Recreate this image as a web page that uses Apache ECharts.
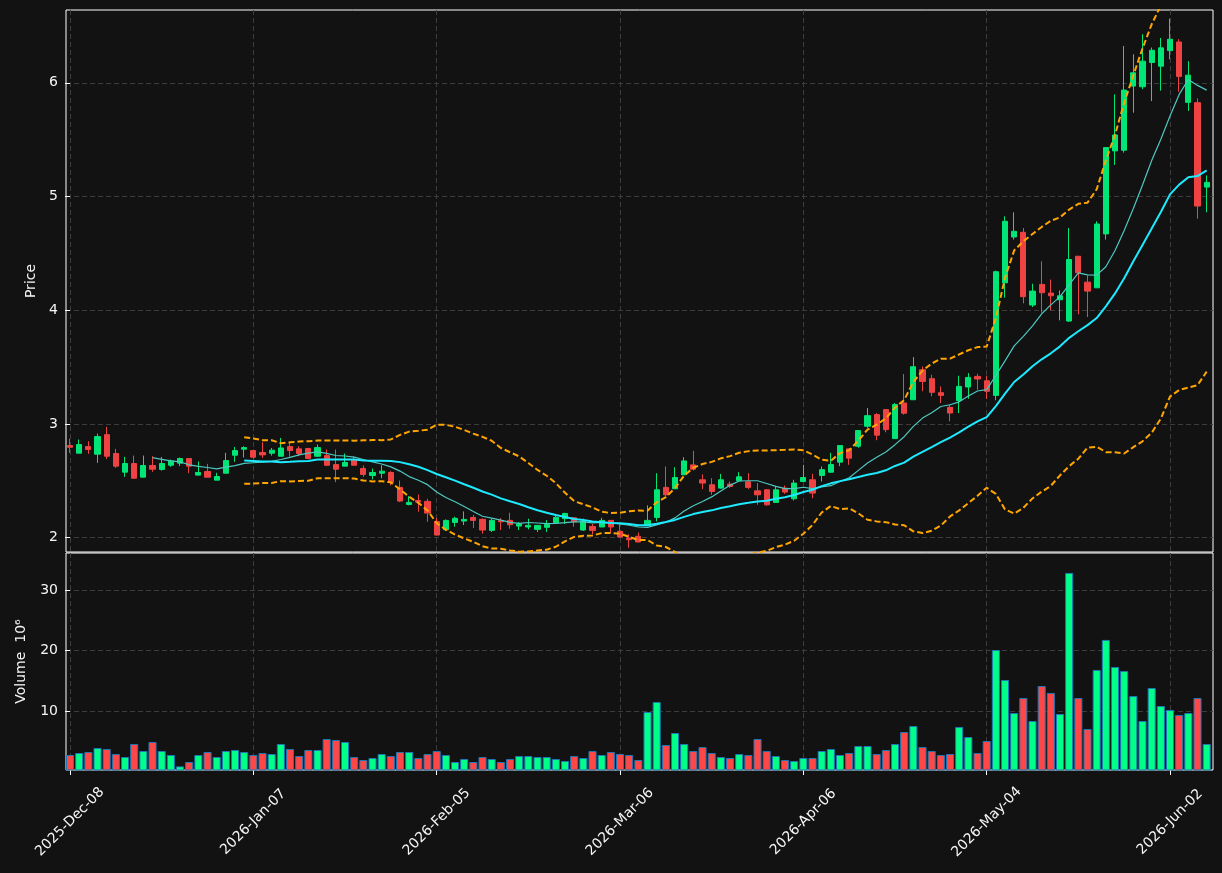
<!DOCTYPE html>
<html>
<head>
<meta charset="utf-8">
<script src="https://cdn.jsdelivr.net/npm/echarts@6/dist/echarts.min.js"></script>
<style>
    html, body { margin: 0; padding: 0; background: #121212; }
    #chart { width: 1222px; height: 873px; }
</style>
</head>
<body>
<div id="chart"></div>
<script>
// trading days: US business days from START_DATE, skipping HOLIDAYS
const START_DATE = "2025-12-08"
const HOLIDAYS = ["2025-12-25", "2026-01-01", "2026-01-19", "2026-02-16", "2026-04-03", "2026-05-25"]
const TICK_INDEX = [0, 20, 40, 60, 80, 100, 120]
const PRICE_TICKS = [2, 3, 4, 5, 6]
const VOLUME_TICKS = [10, 20, 30]

const OPEN = [
    2.81, 2.743, 2.801, 2.734, 2.906, 2.74, 2.576, 2.652, 2.532, 2.635,
    2.60, 2.637, 2.655, 2.696, 2.55, 2.582, 2.506, 2.567, 2.725, 2.778,
    2.766, 2.749, 2.743, 2.716, 2.801, 2.781, 2.784, 2.716, 2.722, 2.643,
    2.629, 2.687, 2.608, 2.547, 2.567, 2.573, 2.442, 2.292, 2.327, 2.319,
    2.143, 2.07, 2.134, 2.146, 2.178, 2.161, 2.064, 2.149, 2.152, 2.102,
    2.094, 2.073, 2.091, 2.132, 2.167, 2.175, 2.067, 2.099, 2.094, 2.152,
    2.056, 1.994, 2.012, 2.108, 2.178, 2.442, 2.43, 2.553, 2.64, 2.509,
    2.465, 2.436, 2.471, 2.5, 2.491, 2.412, 2.421, 2.31, 2.436, 2.342,
    2.494, 2.509, 2.547, 2.576, 2.664, 2.781, 2.804, 2.98, 3.082, 3.126,
    2.871, 3.184, 3.213, 3.477, 3.398, 3.275, 3.146, 3.205, 3.325, 3.418,
    3.38, 3.251, 4.241, 4.644, 4.685, 4.046, 4.227, 4.151, 4.092, 3.905,
    4.475, 4.247, 4.197, 4.671, 5.401, 5.407, 5.971, 5.965, 6.178, 6.146,
    6.283, 6.359, 5.828, 5.825, 5.083,
]
const CLOSE = [
    2.795, 2.819, 2.775, 2.889, 2.716, 2.629, 2.652, 2.523, 2.635, 2.602,
    2.652, 2.675, 2.696, 2.629, 2.573, 2.532, 2.538, 2.678, 2.766, 2.792,
    2.708, 2.728, 2.769, 2.789, 2.766, 2.74, 2.696, 2.792, 2.637, 2.602,
    2.661, 2.637, 2.556, 2.573, 2.585, 2.488, 2.322, 2.31, 2.313, 2.216,
    2.023, 2.152, 2.17, 2.161, 2.152, 2.067, 2.152, 2.14, 2.114, 2.12,
    2.108, 2.108, 2.117, 2.178, 2.213, 2.14, 2.146, 2.064, 2.152, 2.094,
    2.006, 1.982, 1.962, 2.152, 2.421, 2.377, 2.529, 2.675, 2.602, 2.48,
    2.406, 2.509, 2.45, 2.535, 2.442, 2.377, 2.289, 2.421, 2.401, 2.48,
    2.529, 2.392, 2.598, 2.643, 2.81, 2.699, 2.942, 3.073, 2.901, 2.95,
    3.17, 3.094, 3.503, 3.374, 3.278, 3.251, 3.096, 3.33, 3.409, 3.395,
    3.287, 4.339, 4.782, 4.694, 4.119, 4.168, 4.154, 4.127, 4.127, 4.446,
    4.329, 4.168, 4.758, 5.43, 5.541, 5.936, 6.088, 6.19, 6.286, 6.307,
    6.383, 6.056, 6.067, 4.916, 5.124,
]
const HIGH = [
    2.87, 2.863, 2.848, 2.915, 2.974, 2.781, 2.711, 2.722, 2.722, 2.716,
    2.71, 2.687, 2.705, 2.70, 2.67, 2.649, 2.57, 2.746, 2.798, 2.804,
    2.775, 2.839, 2.789, 2.877, 2.839, 2.804, 2.79, 2.819, 2.775, 2.775,
    2.74, 2.716, 2.635, 2.608, 2.637, 2.585, 2.503, 2.365, 2.38, 2.342,
    2.175, 2.16, 2.184, 2.231, 2.199, 2.17, 2.167, 2.172, 2.219, 2.137,
    2.167, 2.108, 2.155, 2.196, 2.219, 2.175, 2.167, 2.12, 2.175, 2.152,
    2.117, 2.03, 2.044, 2.284, 2.567, 2.626, 2.62, 2.708, 2.763, 2.556,
    2.523, 2.561, 2.494, 2.576, 2.567, 2.48, 2.427, 2.45, 2.459, 2.509,
    2.64, 2.561, 2.626, 2.746, 2.81, 2.781, 2.942, 3.14, 3.096, 3.126,
    3.184, 3.439, 3.588, 3.506, 3.433, 3.33, 3.17, 3.424, 3.447, 3.441,
    3.424, 4.348, 4.826, 4.861, 4.723, 4.233, 4.431, 4.27, 4.174, 4.723,
    4.475, 4.306, 4.782, 5.43, 5.898, 6.324, 6.251, 6.427, 6.31, 6.394,
    6.564, 6.383, 6.19, 5.863, 5.185,
]
const LOW = [
    2.745, 2.743, 2.737, 2.658, 2.693, 2.614, 2.535, 2.52, 2.53, 2.579,
    2.59, 2.623, 2.629, 2.567, 2.55, 2.53, 2.506, 2.567, 2.667, 2.705,
    2.693, 2.702, 2.722, 2.716, 2.711, 2.716, 2.69, 2.71, 2.629, 2.488,
    2.629, 2.637, 2.535, 2.512, 2.523, 2.459, 2.313, 2.284, 2.228, 2.14,
    2.02, 2.06, 2.096, 2.111, 2.085, 2.035, 2.05, 2.067, 2.079, 2.067,
    2.073, 2.05, 2.05, 2.13, 2.12, 2.096, 2.06, 2.03, 2.094, 2.044,
    2.0, 1.912, 1.959, 2.105, 2.143, 2.363, 2.43, 2.55, 2.591, 2.427,
    2.377, 2.43, 2.436, 2.494, 2.427, 2.289, 2.281, 2.31, 2.386, 2.327,
    2.494, 2.348, 2.494, 2.57, 2.629, 2.64, 2.79, 2.965, 2.857, 2.927,
    2.871, 3.082, 3.213, 3.287, 3.243, 3.184, 3.023, 3.096, 3.222, 3.30,
    3.219, 3.208, 4.11, 4.621, 4.06, 4.028, 3.978, 4.0, 3.911, 3.897,
    3.964, 3.94, 4.197, 4.621, 5.278, 5.386, 5.737, 5.944, 5.839, 5.93,
    6.207, 5.921, 5.752, 4.805, 4.861,
]
// volume in millions
const VOLUME = [
    2.73, 3.06, 3.22, 3.88, 3.72, 2.89, 2.40, 4.55, 3.39, 4.88,
    3.39, 2.73, 0.85, 1.57, 2.73, 3.22, 2.40, 3.39, 3.55, 3.22,
    2.73, 3.06, 2.89, 4.55, 3.72, 2.56, 3.55, 3.55, 5.37, 5.21,
    4.88, 2.40, 1.90, 2.23, 2.89, 2.56, 3.22, 3.22, 2.23, 2.89,
    3.39, 2.73, 1.57, 2.07, 1.57, 2.40, 2.07, 1.57, 2.07, 2.56,
    2.56, 2.40, 2.40, 2.07, 1.74, 2.56, 2.23, 3.39, 2.73, 3.22,
    2.89, 2.73, 1.90, 9.83, 11.49, 4.38, 6.36, 4.55, 3.39, 4.05,
    3.06, 2.40, 2.23, 2.89, 2.73, 5.37, 3.39, 2.56, 1.90, 1.74,
    2.23, 2.23, 3.39, 3.72, 2.73, 3.06, 4.21, 4.21, 2.89, 3.55,
    4.55, 6.53, 7.52, 4.05, 3.39, 2.73, 2.89, 7.36, 5.70, 3.06,
    5.04, 20.08, 15.12, 9.67, 12.15, 8.35, 14.13, 12.98, 9.50, 32.81,
    12.15, 7.02, 16.78, 21.74, 17.27, 16.61, 12.48, 8.35, 13.80, 10.83,
    10.17, 9.34, 9.67, 12.15, 4.55,
]

const UP = "#00E676"
const DOWN = "#EF4343"
const UP_VOL = "#00FF88"
const DOWN_VOL = "#FF4747"
const MONTHS = ["Jan", "Feb", "Mar", "Apr", "May", "Jun", "Jul", "Aug", "Sep", "Oct", "Nov", "Dec"]

function businessDays(start, count, holidays) {
    const out = []
    const d = new Date(start + "T00:00:00Z")
    while (out.length < count) {
        const iso = d.toISOString().slice(0, 10)
        const wd = d.getUTCDay()
        if (wd !== 0 && wd !== 6 && !holidays.includes(iso)) out.push(iso)
        d.setUTCDate(d.getUTCDate() + 1)
    }
    return out
}

const DATES = businessDays(START_DATE, CLOSE.length, HOLIDAYS)

function dateLabel(i) {
    const s = DATES[Math.round(i)]
    if (!s) return ""
    return s.slice(0, 4) + "-" + MONTHS[+s.slice(5, 7) - 1] + "-" + s.slice(8, 10)
}

// simple moving average / bollinger (pandas-like, ddof=1)
function sma(arr, n) {
    const out = []
    for (let i = n - 1; i < arr.length; i++) {
        let s = 0
        for (let k = i - n + 1; k <= i; k++) s += arr[k]
        out.push([i, s / n])
    }
    return out
}
function bands(arr, n, mult) {
    const up = []
    const lo = []
    for (let i = n - 1; i < arr.length; i++) {
        let s = 0
        for (let k = i - n + 1; k <= i; k++) s += arr[k]
        const m = s / n
        let v = 0
        for (let k = i - n + 1; k <= i; k++) v += (arr[k] - m) * (arr[k] - m)
        const sd = Math.sqrt(v / (n - 1))
        up.push([i, m + mult * sd])
        lo.push([i, m - mult * sd])
    }
    return [up, lo]
}

const candleData = CLOSE.map((c, i) => [i, OPEN[i], c, LOW[i], HIGH[i]])
const volData = VOLUME.map((v, i) => [i, v])
const ma10 = sma(CLOSE, 10)
const ma20 = sma(CLOSE, 20)
const [bbUp, bbLo] = bands(CLOSE, 20, 2)

const gridLine = {
    show: true,
    lineStyle: { color: "#3c3c3c", type: [5, 3], width: 1 },
}
const tickLabel = { color: "#f5f5f5", fontSize: 14, fontFamily: "DejaVu Sans" }

const xBase = {
    type: "value",
    min: -0.44,
    max: 124.69,
    axisLine: { show: false },
    splitLine: gridLine,
}

const myChart = echarts.init(document.getElementById("chart"))
myChart.setOption({
    animation: false,
    backgroundColor: "#121212",
    textStyle: { fontFamily: "DejaVu Sans" },
    grid: [
        { left: 66, right: 9, top: 10, height: 542, show: true, borderColor: "#ffffff", borderWidth: 1 },
        { left: 66, right: 9, top: 553, height: 217, show: true, borderColor: "#ffffff", borderWidth: 1 },
    ],
    xAxis: [
        {
            ...xBase,
            gridIndex: 0,
            axisTick: { show: false, customValues: TICK_INDEX },
            axisLabel: { show: false, customValues: TICK_INDEX },
        },
        {
            ...xBase,
            gridIndex: 1,
            axisTick: { show: true, customValues: TICK_INDEX, length: 5, lineStyle: { color: "#ffffff" } },
            axisLabel: {
                ...tickLabel,
                customValues: TICK_INDEX,
                rotate: 45,
                align: "center",
                verticalAlign: "middle",
                margin: 52,
                formatter: v => dateLabel(v),
            },
        },
    ],
    yAxis: [
        {
            type: "value",
            gridIndex: 0,
            min: 1.874,
            max: 6.64,
            axisLine: { show: false },
            axisTick: { show: true, customValues: PRICE_TICKS, length: 5, lineStyle: { color: "#ffffff" } },
            axisLabel: { ...tickLabel, customValues: PRICE_TICKS, margin: 8 },
            splitLine: gridLine,
            name: "Price",
            nameLocation: "middle",
            nameRotate: 90,
            nameGap: 26,
            nameTextStyle: { color: "#f5f5f5", fontSize: 14 },
        },
        {
            type: "value",
            gridIndex: 1,
            min: 0.25,
            max: 36.1,
            axisLine: { show: false },
            axisTick: { show: true, customValues: VOLUME_TICKS, length: 5, lineStyle: { color: "#ffffff" } },
            axisLabel: { ...tickLabel, customValues: VOLUME_TICKS, margin: 8 },
            splitLine: gridLine,
            name: "Volume  10⁶",
            nameLocation: "middle",
            nameRotate: 90,
            nameGap: 38,
            nameTextStyle: { color: "#f5f5f5", fontSize: 14 },
        },
    ],
    series: [
        {
            type: "candlestick",
            xAxisIndex: 0,
            yAxisIndex: 0,
            encode: { x: 0, y: [1, 2, 3, 4] },
            barWidth: "62%",
            itemStyle: {
                color: UP,
                color0: DOWN,
                borderColor: UP,
                borderColor0: DOWN,
                borderWidth: 1,
            },
            data: candleData,
            z: 2,
        },
        {
            type: "line",
            xAxisIndex: 0,
            yAxisIndex: 0,
            data: ma10,
            showSymbol: false,
            lineStyle: { color: "#4CC9C0", width: 1.2 },
            z: 3,
        },
        {
            type: "line",
            xAxisIndex: 0,
            yAxisIndex: 0,
            data: ma20,
            showSymbol: false,
            lineStyle: { color: "#1DE9FF", width: 2 },
            z: 3,
        },
        {
            type: "line",
            xAxisIndex: 0,
            yAxisIndex: 0,
            data: bbUp,
            showSymbol: false,
            lineStyle: { color: "#FFA500", width: 2, type: [6, 3] },
            z: 3,
        },
        {
            type: "line",
            xAxisIndex: 0,
            yAxisIndex: 0,
            data: bbLo,
            showSymbol: false,
            lineStyle: { color: "#FFA500", width: 2, type: [6, 3] },
            z: 3,
        },
        {
            type: "bar",
            xAxisIndex: 1,
            yAxisIndex: 1,
            data: volData,
            barWidth: "88%",
            itemStyle: {
                color: p => (CLOSE[p.dataIndex] >= OPEN[p.dataIndex] ? UP_VOL : DOWN_VOL),
                borderColor: "#1f77b4",
                borderWidth: 1,
            },
        },
    ],
})
window.addEventListener("resize", function () {
    myChart.resize()
})
</script>
</body>
</html>
